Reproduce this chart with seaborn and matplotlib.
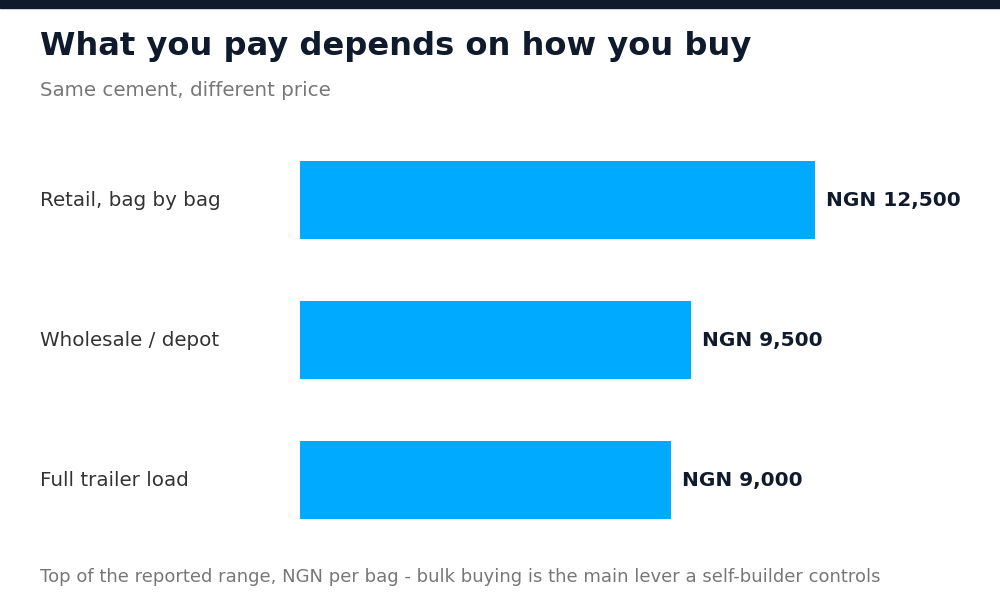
import seaborn as sns
import pandas as pd
import matplotlib.pyplot as plt
from matplotlib.patches import Rectangle

# data
channels = ['Retail, bag by bag', 'Wholesale / depot', 'Full trailer load']
price_ngn = [12500, 9500, 9000]

df = pd.DataFrame({'channel': channels, 'price': price_ngn})

sns.set_theme(style='white')
plt.rcParams['font.family'] = ['DejaVu Sans']
plt.rcParams['font.sans-serif'] = ['DejaVu Sans']
FONT = 'DejaVu Sans'

navy = '#0f1b2d'
blue = '#00aaff'

fig = plt.figure(figsize=(10, 6), dpi=100)
ax = fig.add_axes([0.30, 1 - 550 / 600, 0.65, 420 / 600])

sns.barplot(data=df, x='price', y='channel', color=blue, width=0.557,
            saturation=1, linewidth=0, ax=ax)

ax.set_xlim(0, 12500 * 650 / 515)
ax.set_ylim(2.5, -0.5)
ax.set_xticks([])
ax.set_yticks([])
ax.set_xlabel('')
ax.set_ylabel('')
for s in ax.spines.values():
    s.set_visible(False)

# value labels at bar ends
for i, v in enumerate(price_ngn):
    ax.annotate(f'NGN {v:,}', xy=(v, i), xytext=(11, 0),
                textcoords='offset pixels', va='center', ha='left',
                fontsize=14.5, fontweight='bold', color=navy, family=FONT)

# category labels at left margin
for i, name in enumerate(channels):
    y = 1 - (201 + 140 * i) / 600
    fig.text(0.04, y, name, fontsize=14.3, color='#333333', va='center',
             ha='left', family=FONT)

# top band
fig.patches.append(Rectangle((0, 1 - 8 / 600), 1, 8 / 600,
                             transform=fig.transFigure, color=navy, zorder=5))

fig.text(0.04, 1 - 47 / 600, 'What you pay depends on how you buy',
         fontsize=23.1, fontweight='bold', color=navy, va='center', ha='left',
         family=FONT)
fig.text(0.04, 1 - 91 / 600, 'Same cement, different price',
         fontsize=14.3, color='#777777', va='center', ha='left', family=FONT)
fig.text(0.04, 1 - 577 / 600,
         'Top of the reported range, NGN per bag - bulk buying is the main lever a self-builder controls',
         fontsize=13, color='#777777', va='center', ha='left', family=FONT)

fig.savefig('out.png', dpi=100, facecolor='white')
